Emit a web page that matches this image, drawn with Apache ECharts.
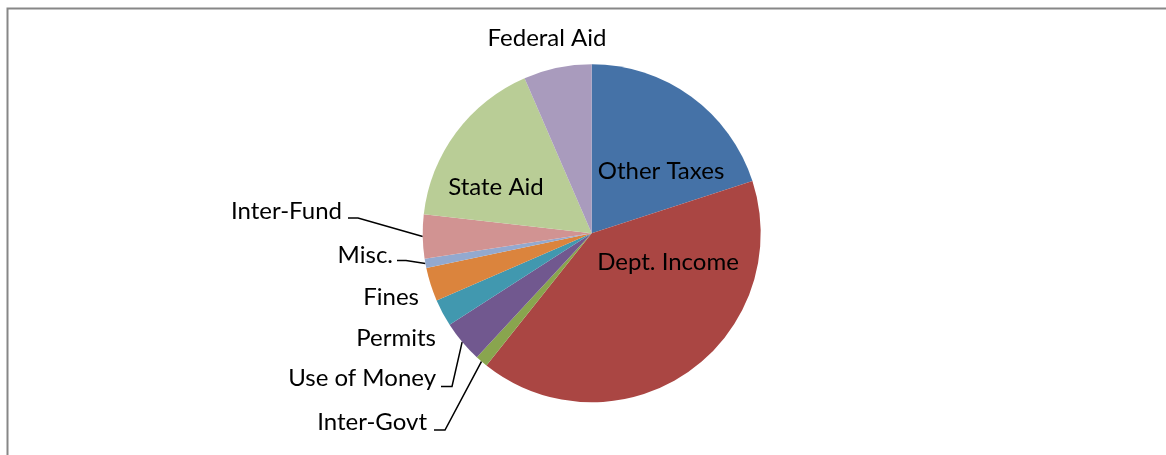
<!DOCTYPE html>
<html>
<head>
<meta charset="utf-8">
<title>Revenue sources</title>
<script src="https://cdn.jsdelivr.net/npm/echarts@6/dist/echarts.min.js"></script>
<style>
  html, body { margin: 0; padding: 0; background: #fff; }
  #chart { width: 1166px; height: 455px; }
</style>
</head>
<body>
<div id="chart"></div>
<script>
// Slice names and shares (percent), clockwise from 12 o'clock
const categories = ['Other Taxes', 'Dept. Income', 'Inter-Govt', 'Use of Money', 'Permits',
  'Fines', 'Misc.', 'Inter-Fund', 'State Aid', 'Federal Aid'];
const shares = [20.0, 40.7, 1.2, 4.0, 2.6, 3.2, 0.9, 4.2, 16.7, 6.5];
const colors = ['#4572A7', '#AA4643', '#89A54E', '#71588F', '#4198AF',
  '#DB843D', '#93A9CF', '#D19392', '#B9CD96', '#A99BBD'];

// label placement (text anchor) and leader-line bends, pixel layout only
const labelPos = {
  'Other Taxes':  { x: 661, y: 171, align: 'center' },
  'Dept. Income': { x: 668, y: 262, align: 'center' },
  'State Aid':    { x: 496, y: 187, align: 'center' },
  'Federal Aid':  { x: 547, y: 38,  align: 'center' },
  'Inter-Fund':   { x: 342, y: 211, align: 'right', bend: [[358, 218], [348, 218]] },
  'Misc.':        { x: 393, y: 255, align: 'right', bend: [[406, 260.5], [397, 260.5]] },
  'Fines':        { x: 419, y: 297, align: 'right' },
  'Permits':      { x: 436, y: 338, align: 'right' },
  'Use of Money': { x: 436, y: 378, align: 'right', bend: [[452, 386.5], [441, 386.5]] },
  'Inter-Govt':   { x: 427, y: 422, align: 'right', bend: [[445, 430], [434, 430]] }
};

const chart = echarts.init(document.getElementById('chart'));

chart.setOption({
  animation: false,
  color: colors,
  textStyle: { fontFamily: 'Lato' },
  graphic: [{
    type: 'rect',
    shape: { x: 7.5, y: 8.5, width: 1200, height: 500 },
    style: { fill: 'none', stroke: '#878787', lineWidth: 2 },
    silent: true
  }],
  series: [{
    type: 'pie',
    center: [591.7, 233.3],
    radius: 169,
    startAngle: 90,
    clockwise: true,
    avoidLabelOverlap: false,
    itemStyle: { borderWidth: 0 },
    label: {
      show: true,
      position: 'outside',
      formatter: '{b}',
      color: '#000',
      fontSize: 24,
      fontFamily: 'Lato'
    },
    labelLine: { show: true, length: 10, length2: 10, lineStyle: { color: '#000', width: 1.5 } },
    labelLayout: function (params) {
      const name = categories[params.dataIndex];
      const p = labelPos[name];
      const out = { x: p.x, y: p.y, align: p.align, verticalAlign: 'middle' };
      if (p.bend && params.labelLinePoints) {
        out.labelLinePoints = [params.labelLinePoints[0], p.bend[0], p.bend[1]];
      }
      return out;
    },
    data: categories.map(function (name, i) {
      return {
        name: name,
        value: shares[i],
        labelLine: { show: !!labelPos[name].bend }
      };
    })
  }]
});
</script>
</body>
</html>
